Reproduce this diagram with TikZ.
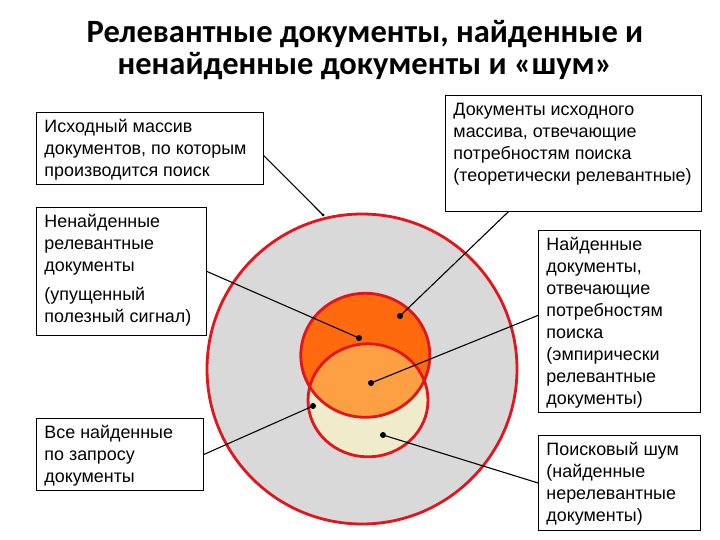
\documentclass[tikz,border=0pt]{standalone}
\usepackage{fontspec}
\setmainfont{Liberation Sans}
\newfontfamily\titlefont{Carlito}
\usetikzlibrary{calc}
\definecolor{bggray}{HTML}{D9D9D9}
\definecolor{ringred}{HTML}{E3141C}
\definecolor{deeporange}{HTML}{FF6A0E}
\definecolor{midorange}{HTML}{FCA043}
\definecolor{cream}{HTML}{F0ECCB}
\newcommand{\boxtext}[3]{\parbox[c][#2][t]{#1}{\fontsize{17.9}{21.9}\selectfont\leftskip=8pt\rightskip=0pt plus 1fil\parindent=0pt\vspace*{5pt}\strut #3}}
\tikzset{
  txtbox/.style={draw=black, line width=0.9pt, fill=white, anchor=north west, inner sep=0pt, align=left},
  ring/.style={draw=ringred, line width=2.8pt},
  dotmark/.style={circle, fill=black, inner sep=0pt, minimum size=6pt},
  smalldot/.style={circle, fill=black, inner sep=0pt, minimum size=3pt},
  leader/.style={draw=black, line width=1.1pt}
}
\begin{document}
\begin{tikzpicture}[x=1pt, y=-1pt]
\useasboundingbox[fill=white] (0,0) rectangle (720,540);

% title
\node[font={\titlefont\bfseries\fontsize{32.5}{32}\selectfont}, align=center, anchor=base] (title) at (365,75)
  {Релевантные документы, найденные и\\ненайденные документы и «шум»};

% circles
\fill[bggray] (362,369) circle[radius=155];
\fill[deeporange] (365.3,355.3) ellipse[x radius=64.5, y radius=62];
\fill[cream] (368,400.3) ellipse[x radius=60, y radius=56.5];
\begin{scope}
  \clip (365.3,355.3) ellipse[x radius=64.5, y radius=62];
  \fill[midorange] (368,400.3) ellipse[x radius=60, y radius=56.5];
\end{scope}
\draw[ring] (362,369) circle[radius=155];
\draw[ring] (365.3,355.3) ellipse[x radius=64.5, y radius=62];
\draw[ring] (368,400.3) ellipse[x radius=60, y radius=56.5];

% boxes
\node[txtbox] (b1) at (36,112) {\boxtext{227pt}{72pt}{Исходный массив\\документов, по которым\\производится поиск}};
\node[txtbox] (b2) at (36,207) {\boxtext{170pt}{128pt}{Ненайденные\\релевантные\\документы\\[7.5pt](упущенный\\полезный сигнал)}};
\node[txtbox] (b3) at (36,418) {\boxtext{167pt}{72pt}{Все найденные\\по запросу\\документы}};
\node[txtbox] (b4) at (445,95) {\boxtext{256pt}{116pt}{Документы исходного\\массива, отвечающие\\потребностям поиска\\(теоретически релевантные)}};
\node[txtbox] (b5) at (538,230) {\boxtext{162pt}{182pt}{Найденные\\документы,\\отвечающие\\потребностям\\поиска\\(эмпирически\\релевантные\\документы)}};
\node[txtbox] (b6) at (538,435) {\boxtext{162pt}{95pt}{Поисковый шум\\(найденные\\нерелевантные\\документы)}};

% dots
\node[smalldot] (d0) at (323,215) {};
\node[dotmark] (d1) at (359,338) {};
\node[dotmark] (d2) at (400,316) {};
\node[dotmark] (d3) at (371,383) {};
\node[dotmark] (d4) at (313,406) {};
\node[dotmark] (d5) at (383,435) {};

% leaders
\draw[leader] ($(b1.north east)!0.6!(b1.south east)$) -- (d0.center);
\draw[leader] (b2.east) -- (d1.center);
\draw[leader] ($(b4.south west)!0.246!(b4.south east)$) -- (d2.center);
\draw[leader] ($(b5.north west)!0.467!(b5.south west)$) -- (d3.center);
\draw[leader] (b3.east) -- (d4.center);
\draw[leader] (b6.west) -- (d5.center);
\end{tikzpicture}
\end{document}
